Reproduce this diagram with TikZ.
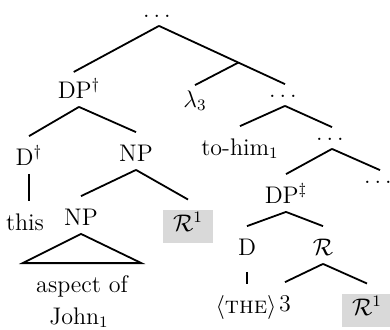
\documentclass[12pt,tikz,border=0pt]{standalone}
\usepackage{amsmath, amssymb}
\usepackage{tikz}
\usetikzlibrary{calc}

\begin{document}
\begin{tikzpicture}[x=0.5pt, y=-0.5pt, line width=0.9pt,
  lbl/.style={anchor=base, inner sep=2pt, text height=12pt, text depth=2pt},
  dts/.style={anchor=base, inner sep=2pt, text height=4pt, text depth=2pt},
  hl/.style={fill=black!15, inner sep=3pt, text height=8pt, text depth=2.5pt,
    minimum width=25pt, outer sep=5pt}]
  \useasboundingbox (0,0) rectangle (390,329);
  % upper spine
  \node[dts] (top) at (159,17) {$\dots$};
  \node[lbl] (dpa) at (79,98) {DP$^\dagger$};
  \node[lbl] (lam) at (195,107) {$\lambda_3$};
  \node[dts] (dta) at (285,97) {$\dots$};
  \node[lbl] (da) at (29,165) {D$^\dagger$};
  \node[lbl] (npa) at (136,161) {NP};
  \node[lbl] (him) at (240,155) {to-him$_1$};
  \node[dts] (dtb) at (332,140) {$\dots$};
  \node[lbl] (dpb) at (286,203) {DP$^\ddagger$};
  \node[dts] (dtc) at (380,183) {$\dots$};
  % left subject DP
  \node[lbl] (this) at (25,230) {this};
  \node[lbl] (npb) at (81,225) {NP};
  \node[hl] (ra) at (188,226) {$\mathcal{R}^1$};
  \node[lbl, minimum width=58.5pt] (asp) at (82,292) {aspect of};
  \node[lbl] (john) at (79,324) {John$_1$};
  % right DP
  \node[lbl] (d) at (247,255) {D};
  \node[lbl] (r) at (323,255) {$\mathcal{R}$};
  \node[lbl] (the) at (246,313) {$\langle$\textsc{the}$\rangle$};
  \node[lbl] (idx) at (285,311) {3};
  \node[hl] (rb) at (367,310) {$\mathcal{R}^1$};
  % branches
  \draw[shorten >=-3pt] (top.south) -- (dpa.north);
  \draw (top.south) -- coordinate[pos=0.63] (mid) (dta.north);
  \draw (mid) -- ([yshift=-3.5pt]lam.north);
  \draw (dpa.south) -- (da.north);
  \draw (dpa.south) -- (npa.north);
  \draw (dta.south) -- (him.north);
  \draw (dta.south) -- (dtb.north);
  \draw (dtb.south) -- (dpb.north);
  \draw (dtb.south) -- (dtc.north);
  \draw (da.south) -- (da.south |- this.north);
  \draw (npa.south) -- (npb.north);
  \draw (npa.south) -- (ra.north);
  \draw (npb.south) -- (asp.north west) -- (asp.north east) -- cycle;
  \draw (dpb.south) -- (d.north);
  \draw (dpb.south) -- (r.north);
  \draw ([yshift=-4pt]d.south) -- (d.south |- the.north);
  \draw (r.south) -- (idx.north);
  \draw (r.south) -- (rb.north);
\end{tikzpicture}
\end{document}
